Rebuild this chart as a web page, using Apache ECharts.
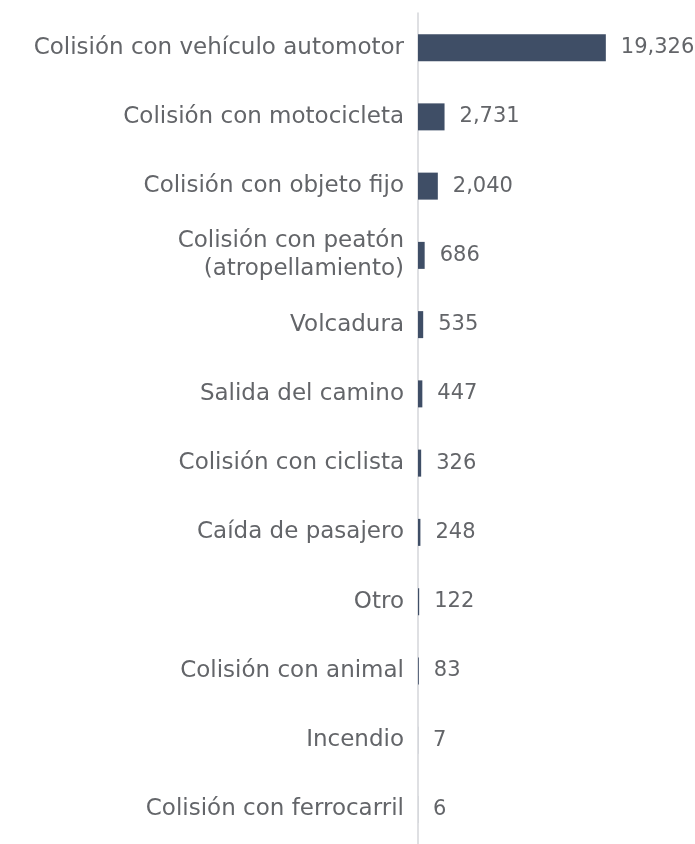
<!DOCTYPE html>
<html><head><meta charset="utf-8">
<script src="https://cdn.jsdelivr.net/npm/echarts@6/dist/echarts.min.js"></script>
<style>html,body{margin:0;padding:0;background:#fff}#c{width:695px;height:844px}</style>
</head><body><div id="c"></div>
<script>
const categories = [
  "Colisión con vehículo automotor",
  "Colisión con motocicleta",
  "Colisión con objeto fijo",
  "Colisión con peatón\n(atropellamiento)",
  "Volcadura",
  "Salida del camino",
  "Colisión con ciclista",
  "Caída de pasajero",
  "Otro",
  "Colisión con animal",
  "Incendio",
  "Colisión con ferrocarril"
];
const values = [19326, 2731, 2040, 686, 535, 447, 326, 248, 122, 83, 7, 6];

const chart = echarts.init(document.getElementById('c'));
chart.setOption({
  animation: false,
  grid: {left: 418, width: 277, top: 13, height: 836},
  xAxis: {type: 'value', min: 0, max: 28500, show: false},
  yAxis: {
    type: 'category', inverse: true, data: categories,
    axisLine: {show: true, lineStyle: {color: '#d4d6da', width: 1.5}},
    axisTick: {show: false},
    axisLabel: {margin: 14, color: '#636569', fontSize: 23, fontFamily: 'DejaVu Sans', lineHeight: 28, align: 'right'}
  },
  series: [{
    type: 'bar', data: values, barWidth: 27,
    itemStyle: {color: '#3f4e66'},
    label: {show: true, position: 'right', distance: 15, color: '#636569', fontSize: 21, fontFamily: 'DejaVu Sans',
      formatter: p => p.value.toLocaleString('en-US')}
  }]
});
</script></body></html>
